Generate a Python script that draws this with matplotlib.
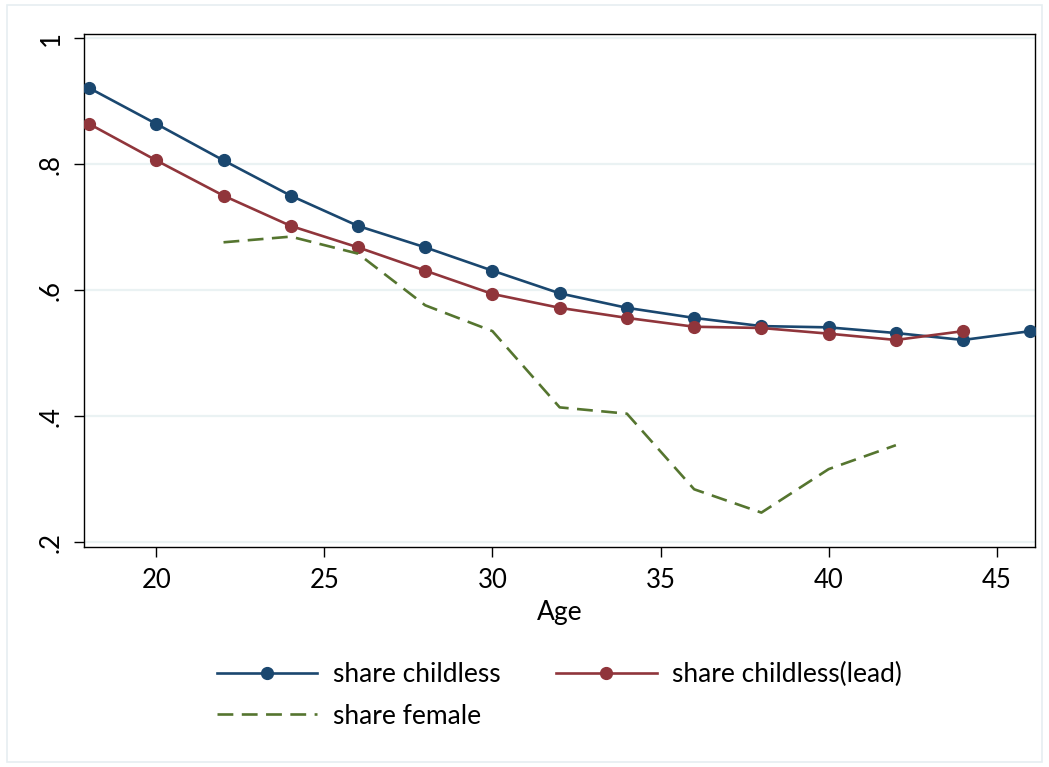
import matplotlib
matplotlib.use("Agg")
import matplotlib.pyplot as plt
from matplotlib.patches import Rectangle

plt.rcParams['font.family'] = ['Lato', 'DejaVu Sans']

# data
ages_child = [18, 20, 22, 24, 26, 28, 30, 32, 34, 36, 38, 40, 42, 44, 46]
share_childless = [0.921, 0.864, 0.806, 0.750, 0.702, 0.668, 0.631, 0.595,
                   0.572, 0.556, 0.543, 0.541, 0.532, 0.521, 0.535]

ages_lead = [18, 20, 22, 24, 26, 28, 30, 32, 34, 36, 38, 40, 42, 44]
share_childless_lead = [0.864, 0.806, 0.750, 0.702, 0.668, 0.631, 0.594,
                        0.572, 0.556, 0.542, 0.540, 0.531, 0.521, 0.535]

ages_female = [22, 24, 26, 28, 30, 32, 34, 36, 38, 40, 42]
share_female = [0.676, 0.685, 0.658, 0.576, 0.535, 0.414, 0.404,
                0.284, 0.247, 0.316, 0.354]

xticks = [20, 25, 30, 35, 40, 45]
yticks = [0.2, 0.4, 0.6, 0.8, 1.0]
ytick_labels = ['.2', '.4', '.6', '.8', '1']

blue = '#1a476f'
red = '#90353b'
green = '#55752f'

fig = plt.figure(figsize=(10.49, 7.67), dpi=100)
fig.patches.append(Rectangle((7 / 1049, 5 / 767), 1 - 14 / 1049, 1 - 10 / 767,
                             transform=fig.transFigure, fill=False,
                             edgecolor='#e6eef1', linewidth=1.2))
ax = fig.add_axes([0.0804, 0.2865, 0.9063, 0.6695])

l1, = ax.plot(ages_child, share_childless, color=blue, lw=1.9,
              marker='o', markersize=8.5, label='share childless', zorder=3)
l2, = ax.plot(ages_lead, share_childless_lead, color=red, lw=1.9,
              marker='o', markersize=8.5, label='share childless(lead)', zorder=3)
l3, = ax.plot(ages_female, share_female, color=green, lw=1.9,
              dashes=(6, 3.2), label='share female', zorder=3)

ax.set_xlim(17.86, 46.14)
ax.set_ylim(0.192, 1.007)
ax.set_xticks(xticks)
ax.set_yticks(yticks)
ax.set_yticklabels(ytick_labels, rotation=90, va='center')
ax.tick_params(axis='both', labelsize=18.5, length=7, width=1, pad=8)
ax.grid(axis='y', color='#eaf2f3', lw=1.6, zorder=0)
for s in ax.spines.values():
    s.set_linewidth(1)
ax.set_xlabel('Age', fontsize=19, labelpad=5)

fig.legend([l1, l3, l2], ['share childless', 'share female', 'share childless(lead)'],
           ncol=2, loc='center', bbox_to_anchor=(0.5335, 0.0935),
           frameon=False, fontsize=19, numpoints=1, handlelength=3.8,
           handletextpad=0.6, columnspacing=2.1, labelspacing=0.62)

fig.savefig('out.png', dpi=100)
